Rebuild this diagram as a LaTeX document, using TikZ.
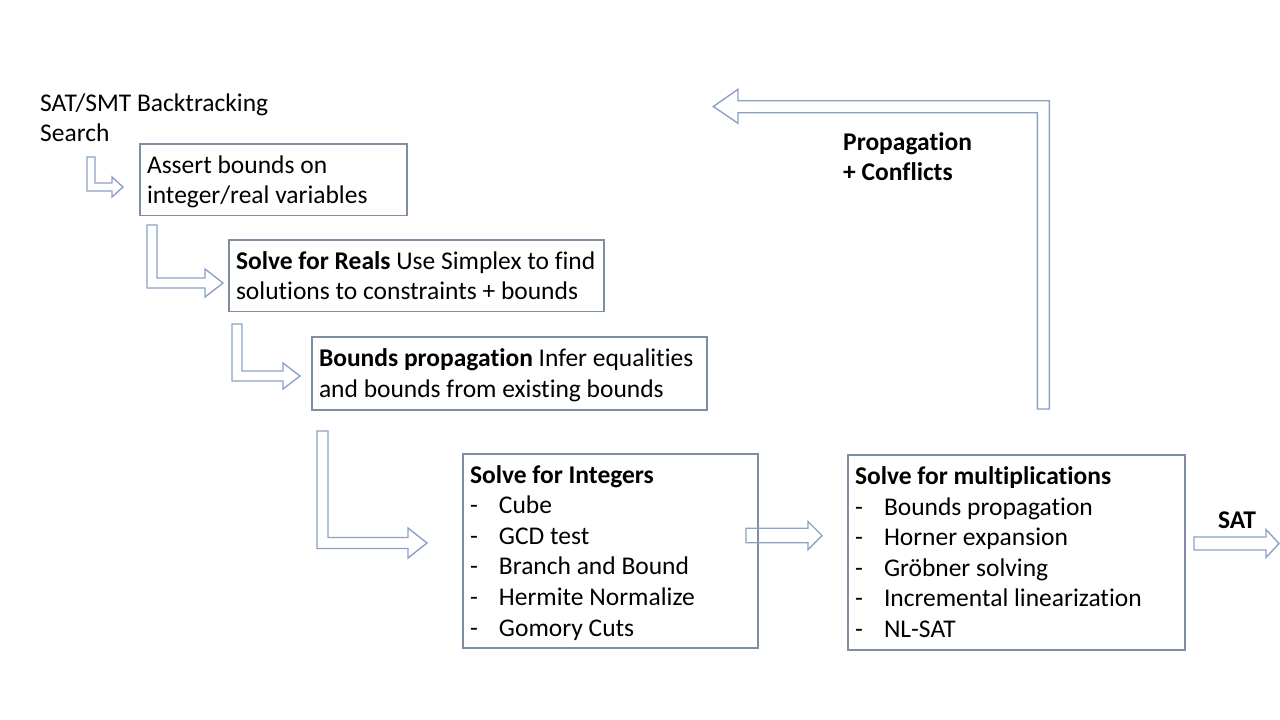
\documentclass[tikz,border=0pt]{standalone}
\usepackage{fontspec}
\setmainfont{Carlito}[Ligatures=NoCommon]
\definecolor{boxline}{RGB}{128,142,164}
\definecolor{arrline}{RGB}{140,162,196}
\tikzset{
  stage/.style={draw=boxline,line width=1.2pt,anchor=north west,align=left,
    inner xsep=7pt,inner ysep=0pt,outer sep=0pt,
    font=\fontsize{25.5}{30.6}\selectfont,
    execute at begin node={\spaceskip=0pt\xspaceskip=0pt\relax}},
  hollow/.style={draw=arrline,line width=1.4pt,line join=miter},
  lbl/.style={inner sep=0pt,align=left,font=\fontsize{25.5}{30.6}\selectfont}
}
\newcommand\elbowarrow[7]{%
  \draw[hollow](#1,#2)--({#1+#3},#2)--({#1+#3},{#4-#3/2})--(#5,{#4-#3/2})
    --(#5,{#4-#7})--(#6,#4)--(#5,{#4+#7})--(#5,{#4+#3/2})--(#1,{#4+#3/2})--cycle;}
\newcommand\straightarrow[6]{%
  \draw[hollow](#1,{#2-#3/2})--(#4,{#2-#3/2})--(#4,{#2-#6})--(#5,#2)
    --(#4,{#2+#6})--(#4,{#2+#3/2})--(#1,{#2+#3/2})--cycle;}
\newcommand\li[1]{\mbox{\makebox[29pt][l]{-}#1}}
\newcommand\fstrut{\rule{0pt}{29pt}}
\newcommand\lstrut{\rule[-12pt]{0pt}{12pt}}
\newcommand\tstrut{\rule{0pt}{20pt}}
\begin{document}
\begin{tikzpicture}[x=1pt,y=-1pt]
\useasboundingbox(0,0)rectangle(1280,720);
\node[lbl,anchor=north west](search)at(40,91){\tstrut SAT/SMT Backtracking\\Search};
\node[stage,text width=253pt,minimum height=71pt](assert)at(140,144){\fstrut\mbox{Assert bounds on}\\\mbox{integer/real variables}\lstrut};
\node[stage,text width=361pt,minimum height=71pt](reals)at(229,240){\fstrut\mbox{\textbf{Solve for Reals} Use Simplex to find}\\\mbox{solutions to constraints + bounds}\lstrut};
\node[stage,text width=381pt,minimum height=73pt](bounds)at(312,337){\fstrut\mbox{\textbf{Bounds propagation} Infer equalities}\\\mbox{and bounds from existing bounds}\lstrut};
\node[stage,text width=281pt,minimum height=194pt](ints)at(463,454){\fstrut\textbf{Solve for Integers}\\\li{Cube}\\\li{GCD test}\\\li{Branch and Bound}\\\li{Hermite Normalize}\\\li{Gomory Cuts}\lstrut};
\node[stage,text width=323pt,minimum height=195pt](mults)at(848,455){\fstrut\textbf{Solve for multiplications}\\\li{Bounds propagation}\\\li{Horner expansion}\\\li{Gröbner solving}\\\li{Incremental linearization}\\\li{NL-SAT}\lstrut};
\node[lbl,anchor=north west,font=\fontsize{25.5}{30.6}\selectfont\bfseries](conf)at(843,130){\tstrut Propagation\\+ Conflicts};
\node[lbl,anchor=base,font=\fontsize{25.5}{30.6}\selectfont\bfseries](sat)at(1237,528){SAT};
\elbowarrow{87}{157}{8}{187}{112}{123}{10}
\elbowarrow{147}{225}{10}{283}{205}{223}{14}
\elbowarrow{232}{324}{10}{376}{283}{300}{13}
\elbowarrow{317}{431}{11}{543}{408}{427}{15}
\straightarrow{746}{535.5}{14.5}{808}{822}{14}
\straightarrow{1194}{543.5}{13}{1266}{1279}{14}
\draw[hollow](1037.3,409)--(1037.3,112.7)--(738,112.7)--(738,123.3)--(713.3,106.5)
  --(738,89.3)--(738,100.7)--(1049.3,100.7)--(1049.3,409)--cycle;
\end{tikzpicture}
\end{document}
